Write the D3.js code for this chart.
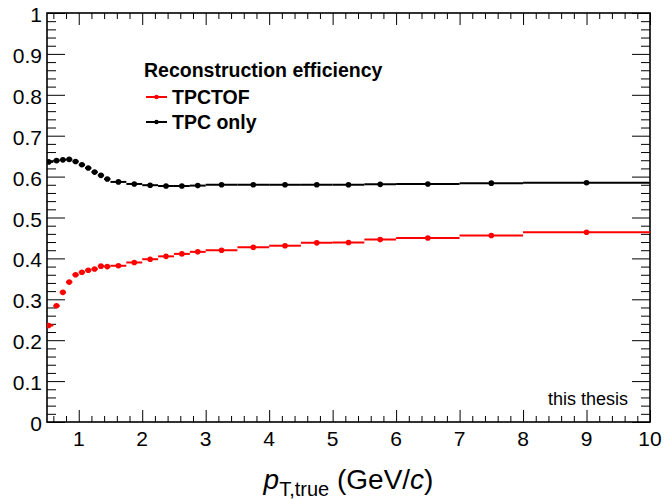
<!DOCTYPE html>
<html>
<head>
<meta charset="utf-8">
<script src="https://cdn.jsdelivr.net/npm/d3@7"></script>
<style>
  body { margin: 0; background: #fff; }
  text { font-family: "Liberation Sans", Arial, Helvetica, sans-serif; }
</style>
</head>
<body>
<div id="chart"></div>
<script>
const width = 664;
const height = 499;
const margin = { top: 13, right: 14, bottom: 77, left: 47 };

// pT bin edges (GeV/c)
const binEdges = [0.45, 0.6, 0.7, 0.8, 0.9, 1.0, 1.1, 1.2, 1.3, 1.4, 1.5,
  1.75, 2.0, 2.25, 2.5, 2.75, 3.0, 3.5, 4.0, 4.5, 5.0, 5.5, 6.0, 7.0, 8.0, 10.0];

const effTPCTOF = [0.236, 0.284, 0.317, 0.342, 0.360, 0.366, 0.371, 0.374, 0.381, 0.380,
  0.382, 0.390, 0.398, 0.405, 0.411, 0.416, 0.420, 0.427, 0.431, 0.438,
  0.439, 0.446, 0.450, 0.456, 0.464];

const effTPConly = [0.636, 0.639, 0.641, 0.642, 0.637, 0.629, 0.621, 0.611, 0.603, 0.594,
  0.587, 0.582, 0.579, 0.577, 0.577, 0.578, 0.580, 0.580, 0.580, 0.580,
  0.580, 0.581, 0.582, 0.584, 0.585];

const xTicks = [1, 2, 3, 4, 5, 6, 7, 8, 9, 10];
const yTicks = [0, 0.1, 0.2, 0.3, 0.4, 0.5, 0.6, 0.7, 0.8, 0.9, 1];

const series = [
  { name: "TPCTOF", color: "#ff0000", values: effTPCTOF },
  { name: "TPC only", color: "#000000", values: effTPConly }
];

const svg = d3.select("#chart").append("svg")
  .attr("width", width)
  .attr("height", height);

const x = d3.scaleLinear().domain([0.5, 10]).range([margin.left, width - margin.right]);
const y = d3.scaleLinear().domain([0, 1]).range([height - margin.bottom, margin.top]);

svg.append("defs").append("clipPath").attr("id", "frame")
  .append("rect")
  .attr("x", margin.left).attr("y", margin.top)
  .attr("width", width - margin.left - margin.right)
  .attr("height", height - margin.top - margin.bottom);

// minor tick values
const xMinor = d3.range(0.6, 10.001, 0.2).filter(v => Math.abs(v - Math.round(v)) > 1e-6);
const yMinor = d3.range(0.02, 1, 0.02).filter(v => Math.abs(v * 10 - Math.round(v * 10)) > 1e-6);

// axes (ROOT style: ticks inside, on all four sides)
const tickFmt = d => d3.format("")(+d.toFixed(1));

const xBottom = svg.append("g")
  .attr("transform", `translate(0,${height - margin.bottom})`)
  .call(d3.axisTop(x).tickValues(xTicks).tickSize(12).tickFormat(""));
xBottom.append("g").call(d3.axisTop(x).tickValues(xMinor).tickSize(6).tickFormat(""));

const xTop = svg.append("g")
  .attr("transform", `translate(0,${margin.top})`)
  .call(d3.axisBottom(x).tickValues(xTicks).tickSize(12).tickFormat(""));
xTop.append("g").call(d3.axisBottom(x).tickValues(xMinor).tickSize(6).tickFormat(""));

const yLeft = svg.append("g")
  .attr("transform", `translate(${margin.left},0)`)
  .call(d3.axisRight(y).tickValues(yTicks).tickSize(18).tickFormat(""));
yLeft.append("g").call(d3.axisRight(y).tickValues(yMinor).tickSize(9).tickFormat(""));

const yRight = svg.append("g")
  .attr("transform", `translate(${width - margin.right},0)`)
  .call(d3.axisLeft(y).tickValues(yTicks).tickSize(18).tickFormat(""));
yRight.append("g").call(d3.axisLeft(y).tickValues(yMinor).tickSize(9).tickFormat(""));

svg.selectAll(".domain").remove();
svg.selectAll(".tick line").attr("stroke", "#000").attr("stroke-width", 1);

// frame
svg.append("rect")
  .attr("x", margin.left).attr("y", margin.top)
  .attr("width", width - margin.left - margin.right)
  .attr("height", height - margin.top - margin.bottom)
  .attr("fill", "none").attr("stroke", "#000").attr("stroke-width", 1.6);

// tick labels
svg.append("g").selectAll("text").data(xTicks).enter().append("text")
  .attr("x", d => x(d))
  .attr("y", height - margin.bottom + 24)
  .attr("text-anchor", "middle")
  .style("font-size", "21px")
  .text(d => d);

svg.append("g").selectAll("text").data(yTicks).enter().append("text")
  .attr("x", margin.left - 5)
  .attr("y", d => y(d) + 9)
  .attr("text-anchor", "end")
  .style("font-size", "21px")
  .text(tickFmt);

// x title
const xt = svg.append("text")
  .attr("x", (margin.left + width - margin.right) / 2)
  .attr("y", 489)
  .attr("text-anchor", "middle")
  .style("font-size", "28px");
xt.append("tspan").style("font-style", "italic").text("p");
xt.append("tspan").attr("dy", 7).style("font-size", "20px").text("T,true");
xt.append("tspan").attr("dy", -7).text(" (GeV/");
xt.append("tspan").style("font-style", "italic").text("c");
xt.append("tspan").text(")");

// data
const plot = svg.append("g").attr("clip-path", "url(#frame)");

series.forEach(s => {
  const pts = s.values.map((v, i) => ({ lo: binEdges[i], hi: binEdges[i + 1], v: v }));
  const g = plot.append("g");
  g.selectAll("line").data(pts).enter().append("line")
    .attr("x1", d => x(d.lo))
    .attr("x2", d => x(d.hi))
    .attr("y1", d => y(d.v))
    .attr("y2", d => y(d.v))
    .attr("stroke", s.color)
    .attr("stroke-width", 2);
  g.selectAll("circle").data(pts).enter().append("circle")
    .attr("cx", d => x((d.lo + d.hi) / 2))
    .attr("cy", d => y(d.v))
    .attr("r", 2.8)
    .attr("fill", s.color);
});

// legend
svg.append("text")
  .attr("x", 144).attr("y", 77)
  .style("font-size", "19.5px").style("font-weight", "bold")
  .text("Reconstruction efficiency");

series.forEach((s, i) => {
  const ly = 97 + i * 25;
  svg.append("line")
    .attr("x1", 146).attr("x2", 167)
    .attr("y1", ly).attr("y2", ly)
    .attr("stroke", s.color).attr("stroke-width", 2);
  svg.append("circle")
    .attr("cx", 156.5).attr("cy", ly).attr("r", 2.2)
    .attr("fill", s.color);
  svg.append("text")
    .attr("x", 172).attr("y", ly + 6.5)
    .style("font-size", "19.5px").style("font-weight", "bold")
    .text(s.name);
});

svg.append("text")
  .attr("x", 628).attr("y", 405)
  .attr("text-anchor", "end")
  .style("font-size", "18px")
  .text("this thesis");
</script>
</body>
</html>
